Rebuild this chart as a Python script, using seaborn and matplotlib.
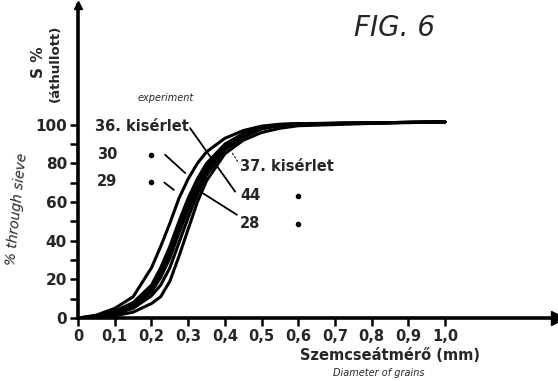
import matplotlib
matplotlib.use('Agg')
import matplotlib.pyplot as plt
import seaborn as sns
import pandas as pd

# grain diameter (mm) and passing percentage for each test
diameter = [0, 0.05, 0.1, 0.15, 0.2, 0.225, 0.25, 0.275, 0.3, 0.325, 0.35,
            0.4, 0.45, 0.5, 0.55, 0.6, 0.8, 1.0]
test_29 = [0, 1.5, 5.0, 11, 26, 37, 49, 62, 72, 80, 86, 93, 97.0, 99.3, 100.3, 100.6, 101.0, 101.5]
test_30 = [0, 1.0, 3.5, 8.0, 17, 26, 37, 50, 62, 72, 80, 90, 95.5, 98.8, 100.1, 100.5, 101.0, 101.5]
test_44 = [0, 0.7, 2.8, 7.0, 15, 23, 34, 47, 59, 70, 78, 89, 95.0, 98.5, 100.0, 100.5, 101.0, 101.5]
test_36 = [0, 0.6, 2.5, 6.0, 13.5, 21, 31, 44, 56, 67, 76, 88, 94.5, 98.3, 99.8, 100.4, 101.0, 101.5]
test_37 = [0, 0.4, 2.0, 5.0, 11.5, 17, 26, 39, 52, 64, 74, 87, 93.5, 97.8, 99.5, 100.3, 101.0, 101.5]
test_28 = [0, 0.2, 1.2, 3.0, 7.5, 11, 19, 32, 46, 60, 71, 85, 92.0, 96.0, 98.2, 99.5, 100.7, 101.5]

y_tick_labels = ["0", "20", "40", "60", "80", "100"]
x_ticks = [0, 0.1, 0.2, 0.3, 0.4, 0.5, 0.6, 0.7, 0.8, 0.9, 1.0]
x_tick_labels = ["0", "0,1", "0,2", "0,3", "0,4", "0,5", "0,6", "0,7", "0,8", "0,9", "1,0"]

series = {"29": test_29, "30": test_30, "44": test_44,
          "36": test_36, "37": test_37, "28": test_28}
df = pd.concat([pd.DataFrame({"d": diameter, "s": v, "test": k}) for k, v in series.items()])

sns.set_style("ticks")
plt.rcParams['font.family'] = ['DejaVu Sans']

fig = plt.figure(figsize=(5.58, 3.81), dpi=100)
ax = fig.add_axes([0.14, 0.1654, 0.86, 0.8215])

sns.lineplot(data=df, x="d", y="s", units="test", estimator=None,
             color="black", linewidth=2.2, ax=ax, legend=False)

ax.set_xlim(0, 1.308)
ax.set_ylim(0, 162)
for side in ["top", "right"]:
    ax.spines[side].set_visible(False)
for side in ["left", "bottom"]:
    ax.spines[side].set_linewidth(2.6)
    ax.spines[side].set_color("black")

# arrow heads at axis ends
ax.plot(1, 0, marker=">", ms=10, color="black", transform=ax.transAxes, clip_on=False)
ax.plot(0, 1, marker="^", ms=6, color="black", transform=ax.transAxes, clip_on=False)

y_ticks = list(range(0, 101, 10))
ax.set_yticks(y_ticks)
ax.set_yticklabels([y_tick_labels[i // 2] if i % 2 == 0 else "" for i in range(len(y_ticks))],
                   fontsize=11, fontweight="bold")
ax.set_xticks(x_ticks)
ax.set_xticklabels(x_tick_labels, fontsize=10.5, fontweight="bold")
ax.tick_params(axis="both", direction="out", length=6, width=1.8, color="black", pad=2)
ax.set_xlabel("")
ax.set_ylabel("")

# axis titles
fig.text(0.069, 0.837, "S %", rotation=90, fontsize=11, fontweight="bold",
         ha="center", va="center")
fig.text(0.1, 0.835, "(áthullott)", rotation=90, fontsize=9.5, fontweight="bold",
         ha="center", va="center")
ax.text(0.85, -19.5, "Szemcseátmérő (mm)", fontsize=10.5, fontweight="bold",
        ha="center", va="center")

# curve labels and leader lines
lbl = dict(fontsize=10.5, fontweight="bold", va="center")
ax.text(0.046, 99, "36. kisérlet", **lbl)
ax.text(0.052, 84.5, "30", **lbl)
ax.text(0.052, 70.5, "29", **lbl)
ax.text(0.441, 78.2, "37. kisérlet", **lbl)
ax.text(0.441, 63.2, "44", **lbl)
ax.text(0.441, 48.7, "28", **lbl)
for x, y in [(0.2, 84.5), (0.2, 70.5), (0.6, 63.2), (0.6, 48.7)]:
    ax.plot(x, y, marker="o", ms=3, color="black")

leaders = [((0.305, 98.3), (0.428, 65.4)),
           ((0.237, 84.5), (0.292, 75.0)),
           ((0.235, 70.1), (0.261, 66.3)),
           ((0.333, 65.4), (0.433, 53.4))]
for (x0, y0), (x1, y1) in leaders:
    ax.plot([x0, x1], [y0, y1], color="black", linewidth=1.3)
ax.plot([0.42, 0.438], [85.3, 80.1], color="black", linewidth=0.8, linestyle=(0, (2, 1.5)))

# handwritten annotations
fig.text(0.78, 0.927, "FIG. 6", fontsize=20, ha="right", va="center", fontstyle="italic")
ax.text(0.24, 114, "experiment", fontsize=7, fontstyle="italic", ha="center", va="center")
fig.text(0.03, 0.45, "% through sieve", rotation=84, fontsize=10, fontstyle="italic",
         ha="center", va="center")
ax.text(0.82, -28.5, "Diameter of grains", fontsize=7, fontstyle="italic",
        ha="center", va="center")

fig.savefig("out.png", dpi=100)
